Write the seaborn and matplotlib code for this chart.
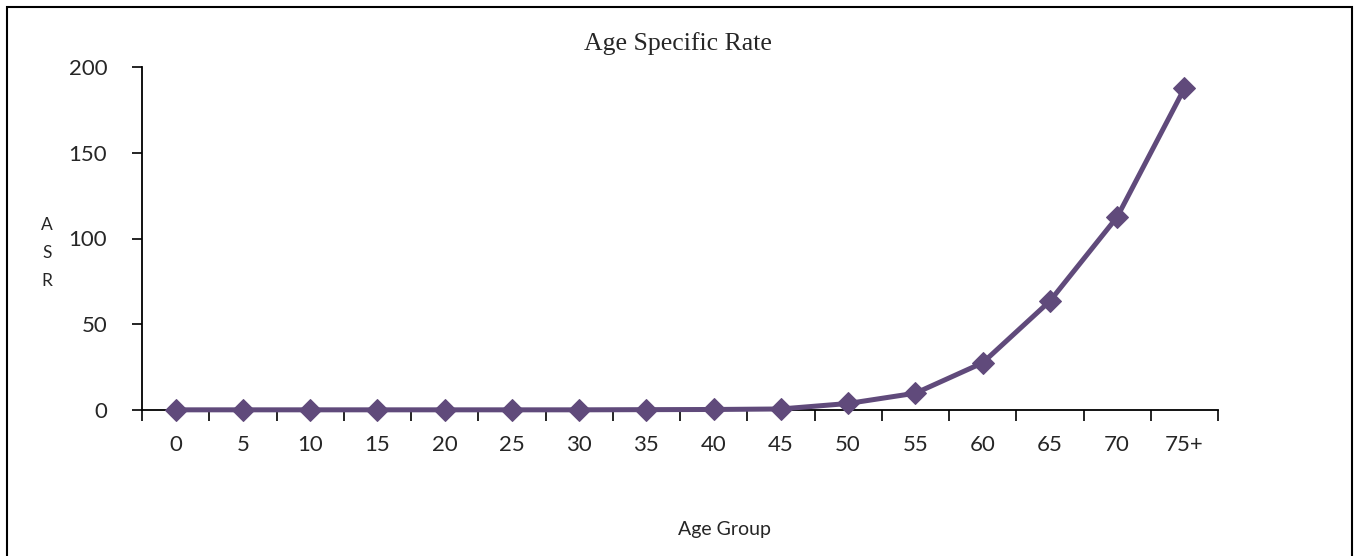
import matplotlib
matplotlib.use("Agg")
import matplotlib.pyplot as plt
import matplotlib.patches as patches
import seaborn as sns
import numpy as np

# Age groups and age specific rates
age_groups = ['0', '5', '10', '15', '20', '25', '30', '35', '40', '45',
              '50', '55', '60', '65', '70', '75+']
asr_values = [0.1, 0.1, 0.1, 0.1, 0.1, 0.1, 0.1, 0.2, 0.3, 0.6,
              3.8, 9.8, 27.5, 63.5, 112.5, 187.5]
y_ticks = [0, 50, 100, 150, 200]

sns.set_theme(style='white')
plt.rcParams['font.family'] = ['Lato', 'DejaVu Sans']

fig = plt.figure(figsize=(13.56, 5.56), dpi=100)
ax = fig.add_axes([142 / 1356, 1 - 410 / 556, (1218 - 142) / 1356, (410 - 67) / 556])

line_color = '#604A7B'
sns.lineplot(x=age_groups, y=asr_values, sort=False, ax=ax, color=line_color,
             linewidth=3.6, marker='D', markersize=11, markeredgecolor=line_color,
             clip_on=False, zorder=5)

ax.set_xlim(-0.5, len(age_groups) - 0.5)
ax.set_ylim(0, 200)
ax.set_yticks(y_ticks)
ax.set_xticks(range(len(age_groups)))
ax.set_xticklabels(age_groups)
ax.set_xticks(np.arange(-0.5, len(age_groups)), minor=True)
ax.tick_params(axis='x', which='major', length=0, pad=18, labelsize=16)
ax.tick_params(axis='x', which='minor', length=8, width=1.2, color='black', direction='out')
ax.tick_params(axis='y', length=7, width=1.2, color='black', direction='out', pad=18, labelsize=16)
ax.xaxis.set_ticks_position('bottom')
ax.yaxis.set_ticks_position('left')

for side in ['top', 'right']:
    ax.spines[side].set_visible(False)
for side in ['left', 'bottom']:
    ax.spines[side].set_color('black')
    ax.spines[side].set_linewidth(1.3)
ax.set_xlabel('')
ax.set_ylabel('')
ax.grid(False)

fig.text(678 / 1356, 1 - 44 / 556, 'Age Specific Rate', ha='center', va='center',
         family=['Liberation Serif', 'DejaVu Serif'], fontsize=18.5)
fig.text(47 / 1356, 1 - 253 / 556, 'A\nS\nR', ha='center', va='center',
         fontsize=12.5, linespacing=1.95)
fig.text(725 / 1356, 1 - 530 / 556, 'Age Group', ha='center', va='center', fontsize=14)

# outer chart frame
frame = patches.Rectangle((7 / 1356, -0.02), (1352 - 7) / 1356, 1 - 7 / 556 + 0.02,
                          transform=fig.transFigure, fill=False, edgecolor='black',
                          linewidth=1.5)
fig.patches.append(frame)

plt.savefig('out.png', dpi=100)
plt.close()
